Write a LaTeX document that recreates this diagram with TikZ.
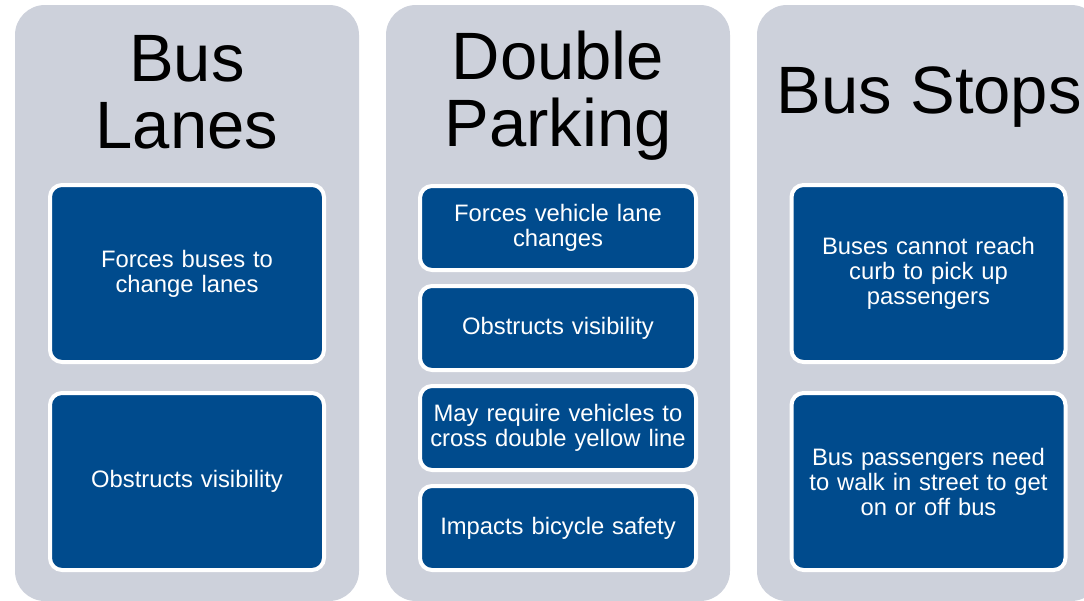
\documentclass[tikz,border=0pt]{standalone}
\usepackage{fontspec}
\setmainfont{Liberation Sans}
\definecolor{panelgray}{HTML}{CDD1DB}
\definecolor{boxblue}{HTML}{004B8D}
\tikzset{
  panel/.style={fill=panelgray,rounded corners=30pt,minimum width=344pt,minimum height=596pt,inner sep=0pt},
  title/.style={align=center,text=black,inner sep=0pt,font=\fontsize{67}{67}\selectfont},
  item/.style={draw=white,line width=4pt,fill=boxblue,rounded corners=12pt,text=white,
    align=center,text width=266pt,inner sep=0pt,font=\fontsize{23.8}{25}\selectfont},
  bigitem/.style={item,minimum width=274pt,minimum height=177pt},
  smallitem/.style={item,minimum width=276pt,minimum height=84pt}
}
\begin{document}
\begin{tikzpicture}[x=1pt,y=-1pt]
      \clip (0,0) rectangle (1084,600);
      % panels
      \node[panel] (lanes)   at (187,303) {};
      \node[panel] (parking) at (558,303) {};
      \node[panel] (stops)   at (929,303) {};
      % titles
      \node[title] (lanesT)   at (187,92) {Bus\\Lanes};
      \node[title] (parkingT) at (558,96) {Double\\Parking};
      \node[title] (stopsT)   at (929,97) {Bus Stops};
      % bus lanes
      \node[bigitem] (l1) at (187,273.5) {Forces buses to\\change lanes};
      \node[bigitem] (l2) at (187,481.5) {Obstructs visibility};
      % double parking
      \begin{scope}[every node/.style={smallitem}]
        \node (d1) at (558,228) {Forces vehicle lane\\changes};
        \node (d2) at (558,328) {Obstructs visibility};
        \node (d3) at (558,428) {May require vehicles to\\cross double yellow line};
        \node (d4) at (558,528) {Impacts bicycle safety};
      \end{scope}
      % bus stops
      \node[bigitem] (s1) at (928.5,273.5) {Buses cannot reach\\curb to pick up\\passengers};
      \node[bigitem] (s2) at (928.5,481.5) {Bus passengers need\\to walk in street to get\\on or off bus};
    \end{tikzpicture}
\end{document}
